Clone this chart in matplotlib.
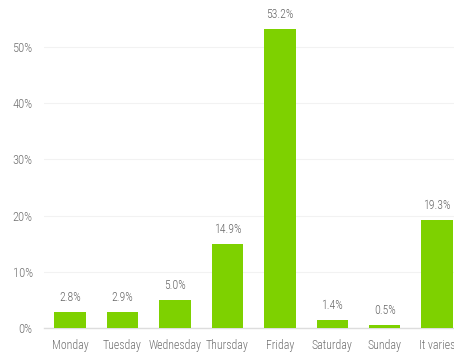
import matplotlib
matplotlib.use("Agg")
import matplotlib.pyplot as plt
from matplotlib import font_manager

categories = ["Monday", "Tuesday", "Wednesday", "Thursday", "Friday", "Saturday", "Sunday", "It varies"]
values = [2.8, 2.9, 5.0, 14.9, 53.2, 1.4, 0.5, 19.3]
yticks = [0, 10, 20, 30, 40, 50]
ytick_labels = ["0%", "10%", "20%", "30%", "40%", "50%"]

names = {f.name for f in font_manager.fontManager.ttflist}
fam = "DejaVu Sans"
for cand in ["Liberation Sans Narrow", "Roboto Condensed", "Open Sans Condensed"]:
    if cand in names:
        fam = cand
        break
plt.rcParams["font.family"] = [fam, "DejaVu Sans"]
plt.rcParams["font.stretch"] = "condensed"
plt.rcParams["font.weight"] = "light"

fig = plt.figure(figsize=(4.54, 3.57), dpi=100)
ax = fig.add_axes([0.0965, 0.0812, 0.9035, 0.905])

green = "#7ED100"
x = list(range(len(categories)))
ax.bar(x, values, width=0.6, color=green, zorder=3)
for xi, v in zip(x, values):
    ax.text(xi, v + 1.4, f"{v:.1f}%", ha="center", va="bottom", fontsize=8.5,
            color="#666666", fontweight="light")

ax.set_xlim(-0.5, 7.32)
ax.set_ylim(0, 57.5)
ax.set_yticks(yticks)
ax.set_yticklabels(ytick_labels)
ax.set_xticks(x)
ax.set_xticklabels(categories)
ax.tick_params(axis="y", length=0, labelsize=9, colors="#707070", pad=8)
ax.tick_params(axis="x", length=0, labelsize=8.6, colors="#707070", pad=8)
ax.grid(axis="y", color="#f2f2f2", linewidth=0.8, zorder=0)
for s in ["top", "right", "left"]:
    ax.spines[s].set_visible(False)
ax.spines["bottom"].set_color("#dddddd")
ax.spines["bottom"].set_linewidth(1)

fig.savefig("out.png", dpi=100)
